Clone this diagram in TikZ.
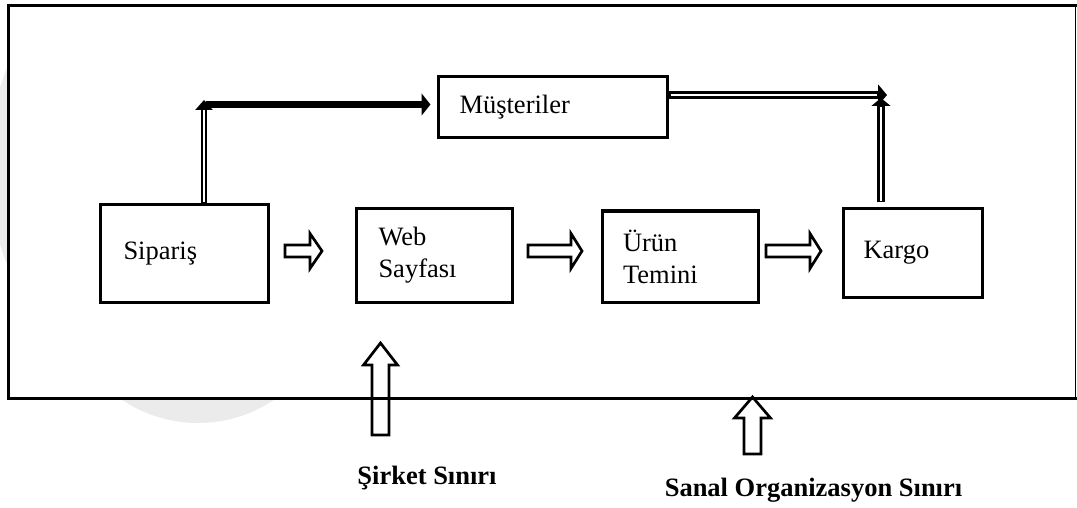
\documentclass[tikz,border=0pt]{standalone}
\usepackage{fontspec}
\setmainfont{Liberation Serif}
\usetikzlibrary{arrows.meta,calc}
\definecolor{wm}{HTML}{EBEBEB}
\begin{document}
\begin{tikzpicture}[x=1pt,y=-1pt,
  box/.style={draw, line width=3pt, align=left, anchor=north west, inner ysep=0pt,
              font=\fontsize{26.5}{32}\selectfont},
  blk/.style={draw, line width=2.7pt, line join=miter},
  lbl/.style={font=\fontsize{26.5}{32}\selectfont\bfseries},
  core/.style={white, line width=1.3pt},
]
\useasboundingbox (0,0) rectangle (1077,508);

% faint watermark behind the frame
\fill[wm] (198,287) circle (136);
\begin{scope}
  \clip (0,0) rectangle (7,508);
  \fill[wm] (250,166) circle (262);
\end{scope}

% outer frame
\fill[white] (8.5,6) rectangle (1075.5,398);
\draw[line width=3pt, line join=miter] (1077,6) -- (8.5,6) -- (8.5,398) -- (1077,398);
\draw[line width=1.2pt] (1075.5,6) -- (1075.5,398);

% boxes
\node[box, text width=121pt, inner xsep=23.5pt, minimum height=97pt] (sip) at (98.5,203.5) {Sipariş};
\node[box, text width=111pt, inner xsep=22.5pt, minimum height=93pt] (web) at (354.5,207.5) {Web\\Sayfası};
\node[box, text width=186pt, inner xsep=21.5pt, minimum height=61pt] (mus) at (436.5,75.5) {Müşteriler};
\node[box, text width=114pt, inner xsep=21pt, minimum height=91pt] (urun) at (600.5,209.5) {Ürün\\Temini};
\node[box, text width=98pt, inner xsep=20.5pt, minimum height=88pt] (kargo) at (841.5,207.5) {Kargo};

% hollow block arrows between boxes
\draw[blk] (285,245) -- (310,245) -- (310,233.5) -- (322,251) -- (310,268.5) -- (310,257) -- (285,257) -- cycle;
\draw[blk] (528,245) -- (571,245) -- (571,233.5) -- (582,251) -- (571,268.5) -- (571,257) -- (528,257) -- cycle;
\draw[blk] (766,245) -- (810,245) -- (810,233.5) -- (821,251) -- (810,268.5) -- (810,257) -- (766,257) -- cycle;

% boundary arrows
\draw[blk] (372,435) -- (372,365) -- (363.5,365) -- (380.5,343) -- (397.5,365) -- (389,365) -- (389,435) -- cycle;
\draw[blk] (744,454) -- (744,418) -- (734.5,418) -- (752.5,397) -- (770.5,418) -- (761,418) -- (761,454) -- cycle;

% corner coordinates
\coordinate (cA) at (204,104.5);
\coordinate (cB) at (881,95);

% Siparis -> Musteriler
\draw[line width=6.6pt, -{Triangle[width=17pt,length=10pt]}] (sip.north -| cA) -- ($(cA)+(0,-4.5)$);
\draw[core, shorten <=1.5pt] (sip.north -| cA) -- ($(cA)+(0,6)$);
\draw[line width=7.5pt, shorten >=6pt, -{Triangle[width=22pt,length=9pt]}] ($(cA)+(2,0)$) -- (cA -| mus.west);

% Musteriler -> corner
\draw[line width=7.5pt, -{Triangle[width=21pt,length=9pt]}] (mus.east |- cB) -- ($(cB)+(6,0)$);
\draw[core, shorten <=2pt] (mus.east |- cB) -- ($(cB)+(-4,0)$);

% Kargo -> corner
\draw[line width=8pt, shorten <=5pt, -{Triangle[width=19pt,length=8pt]}] (kargo.north -| cB) -- ($(cB)+(0,3)$);
\draw[core, shorten <=6pt] (kargo.north -| cB) -- ($(cB)+(0,12)$);

% labels
\node[lbl] (sirket) at (427,478) {Şirket Sınırı};
\node[lbl] (sanal) at (813.5,490) {Sanal Organizasyon Sınırı};
\end{tikzpicture}
\end{document}
